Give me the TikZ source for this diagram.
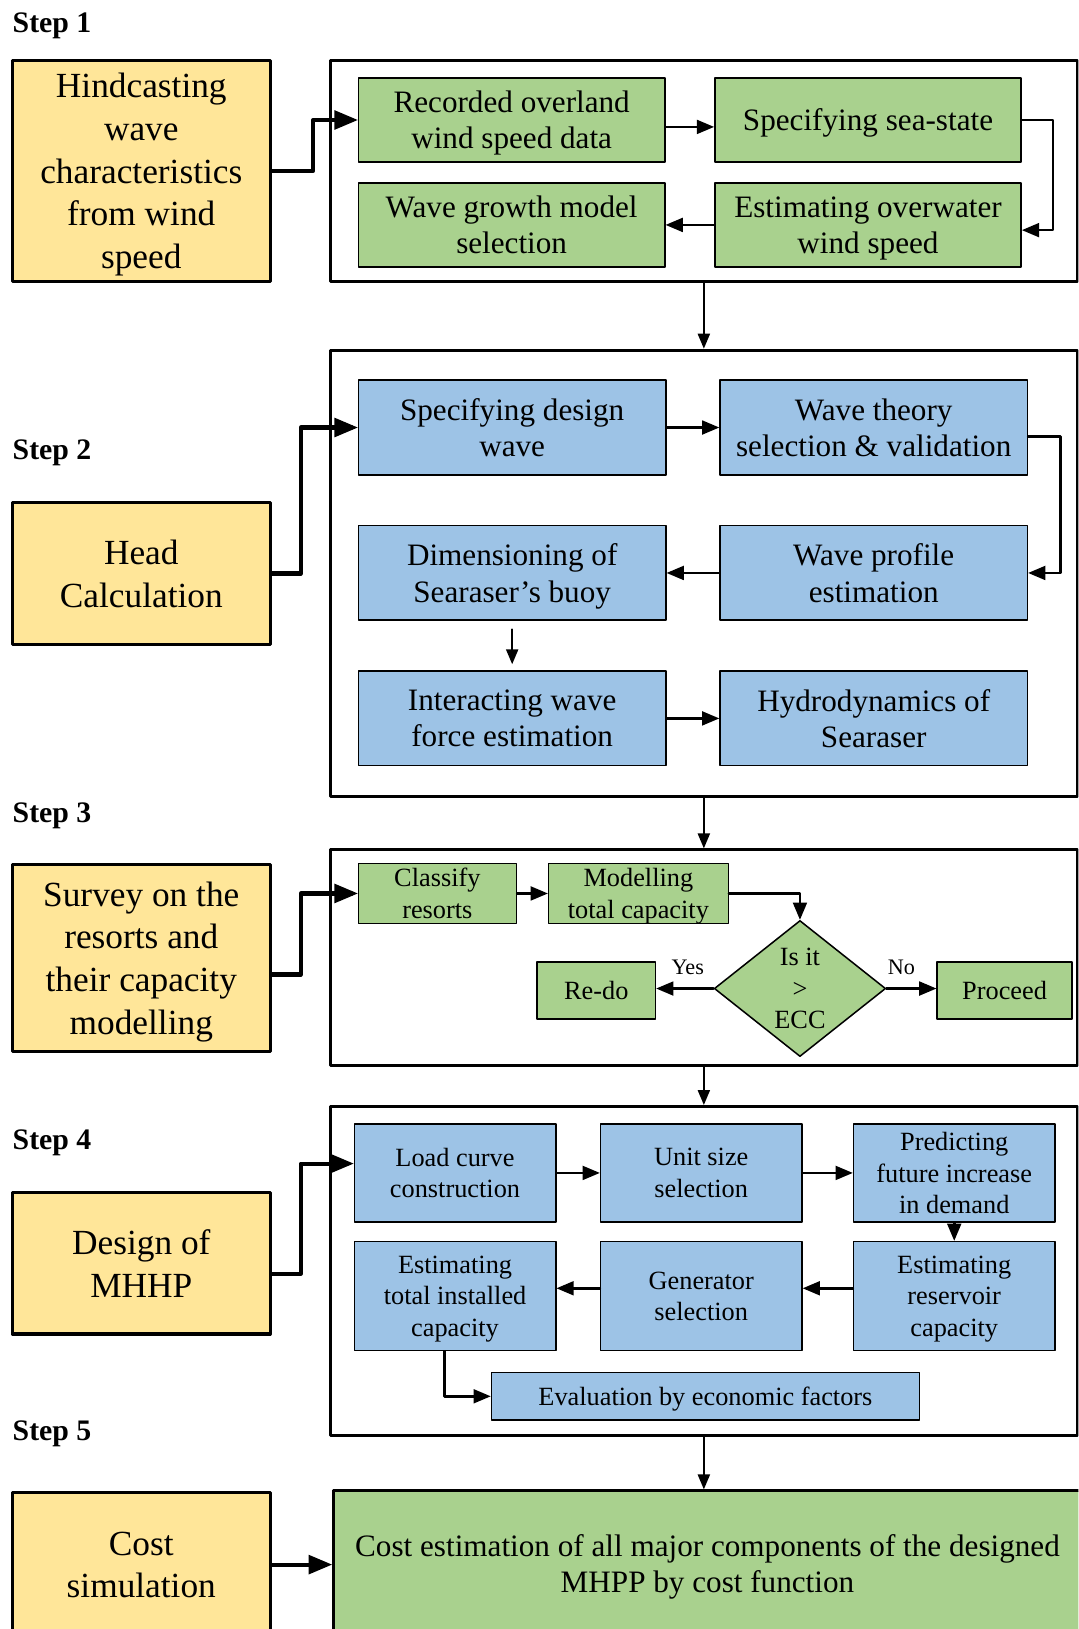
\documentclass[tikz,border=0pt]{standalone}
\usepackage{fontspec}
\setmainfont{Liberation Serif}
\usetikzlibrary{arrows,shapes.geometric}
\definecolor{yellowbox}{rgb}{1.,0.902,0.6}
\definecolor{greenbox}{rgb}{0.663,0.82,0.557}
\definecolor{bluebox}{rgb}{0.616,0.765,0.902}

\begin{document}
\begin{tikzpicture}[line cap=round,line join=round,>=triangle 45,x=0.75pt,y=-0.75pt,
  stepbox/.style={draw,line width=2.25pt,fill=yellowbox,align=center,inner sep=0pt,minimum width=186pt,text depth=-1.5pt,font=\fontsize{25.5}{30.75}\selectfont},
  stepframe/.style={draw,line width=2.25pt,minimum width=539.25pt,inner sep=0pt},
  gbox/.style={draw,line width=1.1pt,fill=greenbox,align=center,inner sep=0pt,text depth=-1.5pt},
  bbox/.style={draw,line width=1.1pt,fill=bluebox,align=center,inner sep=0pt,text depth=-1.5pt},
  bigtext/.style={font=\fontsize{22.5}{26.25}\selectfont},
  smalltext/.style={font=\fontsize{19}{22.75}\selectfont},
  steplabel/.style={anchor=west,inner sep=0pt,font=\fontsize{21.5}{25}\selectfont\bfseries},
  answer/.style={above=6pt,font=\fontsize{16}{19}\selectfont},
  bigarr/.style={->,line width=3pt},
  arr/.style={->,line width=1.9pt},
  thinarr/.style={->,line width=1.5pt}]
\useasboundingbox (0,0) rectangle (1038,1568);
\clip (0,0) rectangle (1038,1568);
% step 1
\node[steplabel] (s1) at (12,25) {Step 1};
\node[stepbox,minimum height=159.75pt] (y1) at (136,164.5) {Hindcasting\\wave\\characteristics\\from wind\\speed};
\node[stepframe,minimum height=159.75pt] (f1) at (677.5,164.5) {};
\node[gbox,bigtext,minimum width=221.25pt,minimum height=60.75pt] (rec) at (492.5,115.5) {Recorded overland\\wind speed data};
\node[gbox,bigtext,minimum width=221.25pt,minimum height=60.75pt] (sea) at (835.5,115.5) {Specifying sea-state};
\node[gbox,bigtext,minimum width=221.25pt,minimum height=60.75pt] (growth) at (492.5,216.5) {Wave growth model\\selection};
\node[gbox,bigtext,minimum width=221.25pt,minimum height=60.75pt] (overw) at (835.5,216.5) {Estimating overwater\\wind speed};
\draw[bigarr] (y1.east) -- ++(40,0) |- (rec.west);
\draw[arr] ([yshift=-5pt]rec.east) -- ([yshift=-5pt]sea.west);
\draw[arr] (sea.east) -- ++(30,0) |- ([yshift=-3.75pt]overw.east);
\draw[arr] (overw.west) -- (growth.east);
% step 2
\node[steplabel] (s2) at (12,436) {Step 2};
\node[stepbox,minimum height=102pt] (y2) at (136,552) {Head\\Calculation};
\node[stepframe,minimum height=322.5pt] (f2) at (677.5,552) {};
\node[bbox,bigtext,minimum width=222pt,minimum height=68.25pt] (design) at (493,411.5) {Specifying design\\wave};
\node[bbox,bigtext,minimum width=222pt,minimum height=68.25pt] (theory) at (841,411.5) {Wave theory\\selection \& validation};
\node[bbox,bigtext,minimum width=222pt,minimum height=68.25pt] (dimen) at (493,551.5) {Dimensioning of\\Searaser’s buoy};
\node[bbox,bigtext,minimum width=222pt,minimum height=68.25pt] (profile) at (841,551.5) {Wave profile\\estimation};
\node[bbox,bigtext,minimum width=222pt,minimum height=68.25pt] (interact) at (493,691.5) {Interacting wave\\force estimation};
\node[bbox,bigtext,minimum width=222pt,minimum height=68.25pt] (hydro) at (841,691.5) {Hydrodynamics of\\Searaser};
\draw[thinarr] (f1.south) -- (f2.north);
\draw[bigarr] (y2.east) -- ++(28,0) |- (design.west);
\draw[arr] (design.east) -- (theory.west);
\draw[arr] ([yshift=-6.4pt]theory.east) -- ++(31,0) |- (profile.east);
\draw[arr] (profile.west) -- (dimen.east);
\draw[thinarr,shorten <=6pt,shorten >=4.5pt] (dimen.south) -- (interact.north);
\draw[arr] (interact.east) -- (hydro.west);
% step 3
\node[steplabel] (s3) at (12,785) {Step 3};
\node[stepbox,minimum height=135pt] (y3) at (136,922) {Survey on the\\resorts and\\their capacity\\modelling};
\node[stepframe,minimum height=156pt] (f3) at (677.5,922) {};
\node[gbox,smalltext,minimum width=114pt,minimum height=43.5pt] (classify) at (421,860) {Classify\\resorts};
\node[gbox,smalltext,minimum width=129.75pt,minimum height=43.5pt] (modelling) at (614.5,860) {Modelling\\total capacity};
\node[gbox,smalltext,diamond,aspect=1.26,minimum width=123.75pt,minimum height=98.25pt] (dia) at (770,951.5) {Is it\\>\\ECC};
\node[gbox,smalltext,minimum width=85.5pt,minimum height=41.25pt] (redo) at (574,953.5) {Re-do};
\node[gbox,smalltext,minimum width=97.5pt,minimum height=41.25pt] (proceed) at (967,953.5) {Proceed};
\draw[thinarr] (f2.south) -- (f3.north);
\draw[bigarr] ([yshift=-12pt]y3.east) -- ++(28,0) |- (classify.west);
\draw[arr] (classify.east) -- (modelling.west);
\draw[arr] (modelling.east) -| (dia.north);
\draw[arr] (dia.west) -- (dia.west -| redo.east) node[pos=0.45,answer] {Yes};
\draw[arr] (dia.east) -- (dia.east -| proceed.west) node[pos=0.3,answer] {No};
% step 4
\node[steplabel] (s4) at (12,1100) {Step 4};
\node[stepbox,minimum height=102pt] (y4) at (136,1216) {Design of\\MHHP};
\node[stepframe,minimum height=237.75pt] (f4) at (677.5,1223.5) {};
\node[bbox,smalltext,minimum width=145.5pt,minimum height=70.5pt] (load) at (438,1129) {Load curve\\construction};
\node[bbox,smalltext,minimum width=145.5pt,minimum height=70.5pt] (unit) at (675,1129) {Unit size\\selection};
\node[bbox,smalltext,minimum width=145.5pt,minimum height=70.5pt] (predict) at (918.5,1129) {Predicting\\future increase\\in demand};
\node[bbox,smalltext,minimum width=145.5pt,minimum height=78.75pt] (totinst) at (438,1247.5) {Estimating\\total installed\\capacity};
\node[bbox,smalltext,minimum width=145.5pt,minimum height=78.75pt] (gener) at (675,1247.5) {Generator\\selection};
\node[bbox,smalltext,minimum width=145.5pt,minimum height=78.75pt] (reserv) at (918.5,1247.5) {Estimating\\reservoir\\capacity};
\node[bbox,smalltext,minimum width=309pt,minimum height=34.5pt] (evalu) at (679,1344) {Evaluation by economic factors};
\draw[thinarr] (f3.south) -- (f4.north);
\draw[bigarr] ([yshift=-7.5pt]y4.east) -- ++(28,0) |- ([yshift=6.75pt]load.west);
\draw[arr] (load.east) -- (unit.west);
\draw[arr] (unit.east) -- (predict.west);
\draw[arr] (predict.south) -- (reserv.north);
\draw[arr] ([yshift=5.6pt]reserv.west) -- ([yshift=5.6pt]gener.east);
\draw[arr] ([yshift=5.6pt]gener.west) -- ([yshift=5.6pt]totinst.east);
\draw[arr] ([xshift=-7.5pt]totinst.south) |- (evalu.west);
% step 5
\node[steplabel] (s5) at (12,1380) {Step 5};
\node[stepbox,minimum height=103.5pt] (y5) at (136,1506) {Cost\\simulation};
\node[gbox,bigtext,line width=2.25pt,minimum width=540pt,minimum height=105pt] (cost) at (681,1505) {Cost estimation of all major components of the designed\\MHPP by cost function};
\draw[thinarr] (f4.south) -- (f4.south |- cost.north);
\draw[bigarr] (y5.east) -- (y5.east -| cost.west);
\end{tikzpicture}
\end{document}
